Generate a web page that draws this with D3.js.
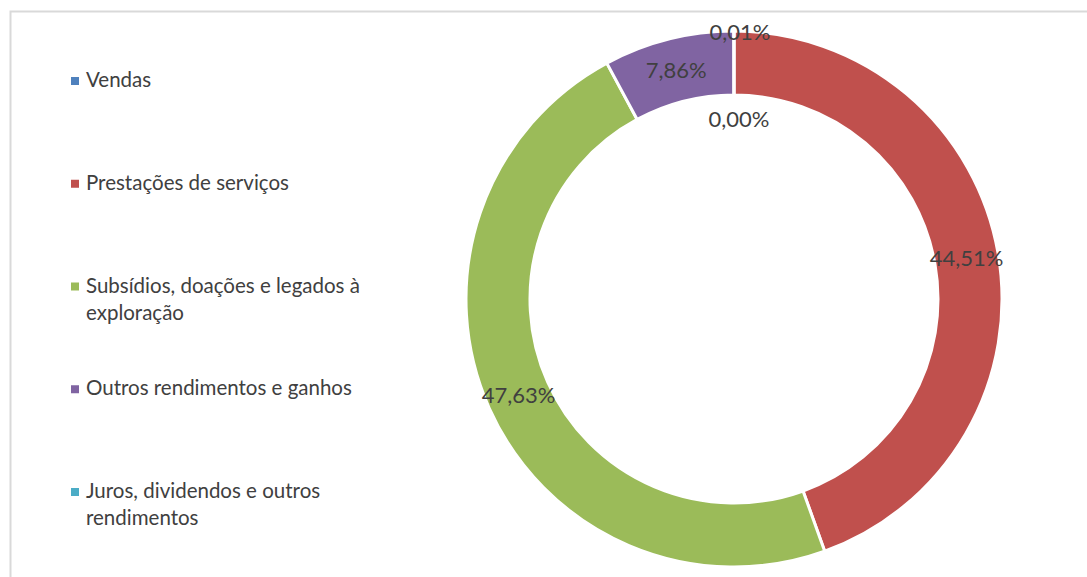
<!DOCTYPE html>
<html>
<head>
<meta charset="utf-8">
<script src="https://cdn.jsdelivr.net/npm/d3@7"></script>
<style>
  html, body { margin: 0; padding: 0; background: #fff; }
  text { font-family: Lato, "Open Sans", sans-serif; fill: #404040; }
</style>
</head>
<body>
<div id="chart"></div>
<script>
// categories and shares (%), clockwise from 12 o'clock
var categories = [
  "Vendas",
  "Prestações de serviços",
  "Subsídios, doações e legados à exploração",
  "Outros rendimentos e ganhos",
  "Juros, dividendos e outros rendimentos"
];
var shares = [0.00, 44.51, 47.63, 7.86, 0.01];
var labels = ["0,00%", "44,51%", "47,63%", "7,86%", "0,01%"];
var colors = ["#4F81BD", "#C0504D", "#9BBB59", "#8064A2", "#4BACC6"];

var width = 1087, height = 577;
var cx = 734, cy = 299;
var outerR = 268, innerR = 204;

var data = categories.map(function(c, i) {
  return { category: c, value: shares[i], label: labels[i] };
});

var color = d3.scaleOrdinal().domain(categories).range(colors);

var svg = d3.select("#chart").append("svg")
  .attr("width", width)
  .attr("height", height);

// chart area border (only top and left edges fall inside the picture)
svg.append("path")
  .attr("d", "M10.5,577 V11.5 H1087")
  .attr("fill", "none")
  .attr("stroke", "#d9d9d9")
  .attr("stroke-width", 2);

// donut
var pie = d3.pie().sort(null).value(function(d) { return d.value; });
var arc = d3.arc().innerRadius(innerR).outerRadius(outerR);
var labelArc = d3.arc().innerRadius((innerR + outerR) / 2).outerRadius((innerR + outerR) / 2);

var g = svg.append("g").attr("transform", "translate(" + cx + "," + cy + ")");

g.selectAll(".slice")
  .data(pie(data))
  .enter().append("path")
  .attr("class", "slice")
  .attr("d", arc)
  .attr("fill", function(d) { return color(d.data.category); })
  .attr("stroke", "#fff")
  .attr("stroke-width", 3)
  .attr("stroke-linejoin", "round");

// tiny slices get their labels pushed apart, as Excel does
var nudge = {
  "Vendas": { r: 180, dx: 5 },
  "Juros, dividendos e outros rendimentos": { r: 267, dx: 6 }
};

g.selectAll(".lbl")
  .data(pie(data))
  .enter().append("text")
  .attr("class", "lbl")
  .attr("transform", function(d) {
    var n = nudge[d.data.category];
    if (n) {
      var a = (d.startAngle + d.endAngle) / 2;
      return "translate(" + (n.r * Math.sin(a) + n.dx) + "," + (-n.r * Math.cos(a)) + ")";
    }
    return "translate(" + labelArc.centroid(d) + ")";
  })
  .attr("text-anchor", "middle")
  .attr("dy", "0.36em")
  .style("font-size", "22px")
  .text(function(d) { return d.data.label; });

// legend
var rowY = d3.scalePoint().domain(categories).range([87, 498]);
var maxW = 295, lineH = 27;

var leg = svg.selectAll(".leg")
  .data(data)
  .enter().append("g")
  .attr("class", "leg")
  .attr("transform", function(d) { return "translate(71," + rowY(d.category) + ")"; });

leg.append("rect")
  .attr("x", 0)
  .attr("y", -10)
  .attr("width", 8)
  .attr("height", 8)
  .attr("fill", function(d) { return color(d.category); });

leg.append("text")
  .attr("x", 15)
  .style("font-size", "20.5px")
  .each(function(d) {
    var t = d3.select(this);
    var words = d.category.split(" ");
    var line = [], lineNo = 0;
    var tspan = t.append("tspan").attr("x", 15).attr("y", 0);
    words.forEach(function(w) {
      line.push(w);
      tspan.text(line.join(" "));
      if (tspan.node().getComputedTextLength() > maxW && line.length > 1) {
        line.pop();
        tspan.text(line.join(" "));
        line = [w];
        lineNo++;
        tspan = t.append("tspan").attr("x", 15).attr("y", lineNo * lineH).text(w);
      }
    });
  });
</script>
</body>
</html>
